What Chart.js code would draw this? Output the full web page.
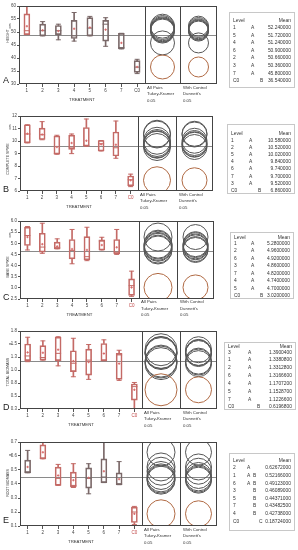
<!DOCTYPE html>
<html>
<head>
<meta charset="utf-8">
<script src="https://cdn.jsdelivr.net/npm/chart.js@4.4.0/dist/chart.umd.min.js"></script>
<style>
  body { margin: 0; background: #fff; width: 298px; height: 550px; overflow: hidden; position: relative;
         font-family: "Liberation Sans", Arial, sans-serif; color: #333; }
  canvas { position: absolute; }
  .txt { position: absolute; font-size: 4.3px; line-height: 6.5px; white-space: nowrap; color: #333; }
  .letter { position: absolute; font-size: 9px; line-height: 9px; color: #222; }
  .ytitle { position: absolute; font-size: 3.6px; line-height: 4px; white-space: nowrap; color: #333;
            transform: translate(-50%, -50%) rotate(-90deg); }
  .tbl { position: absolute; border: 1px solid #c8c8c8; box-sizing: border-box; font-size: 4.9px; color: #333; }
  .tbl span { position: absolute; line-height: 6px; white-space: nowrap; transform: translateY(-50%); }
</style>
</head>
<body>
<script>
const treatments = ['1', '2', '3', '4', '5', '6', '7', 'C0'];

// HEIGHT (cm)
const heightLow    = [49, 48.5, 47, 46.5, 48.5, 44.5, 43.5, 34];
const heightQ1     = [49, 48.5, 49, 47.5, 48.5, 46.5, 43.5, 34.5];
const heightMedian = [50.5, 50.5, 50.5, 48.5, 51.5, 53, 44, 36.5];
const heightQ3     = [57, 53, 52.5, 54.5, 55.5, 54.5, 49.5, 39];
const heightHigh   = [60, 54, 53, 57.5, 56, 55.5, 49.5, 39.5];
const heightMean   = [52.24, 50.66, 50.36, 51.24, 51.72, 50.90, 45.80, 36.54];
const heightLetters = ['A', 'A', 'A', 'A', 'A', 'A', 'A', 'B'];

// COMPLETE SPIKE (cm)
const spikeLow    = [9.85, 10.1, 8.94, 8.99, 9.59, 9.2, 8.62, 6.35];
const spikeQ1     = [9.85, 10.12, 8.95, 9.33, 9.6, 9.2, 8.8, 6.42];
const spikeMedian = [10.56, 10.5, 9.0, 9.51, 9.62, 9.78, 9.46, 6.9];
const spikeQ3     = [11.3, 11.03, 10.4, 10.46, 11.08, 10.04, 10.72, 7.2];
const spikeHigh   = [11.3, 11.55, 10.46, 10.56, 11.76, 10.04, 11.6, 7.35];
const spikeMean   = [10.58, 10.52, 9.52, 9.84, 10.02, 9.74, 9.70, 6.86];
const spikeLetters = ['A', 'A', 'A', 'A', 'A', 'A', 'A', 'B'];

// BASE SPIKE (cm)
const baseLow    = [4.7, 4.55, 4.75, 4.08, 4.22, 4.7, 4.5, 2.62];
const baseQ1     = [4.9, 4.6, 4.75, 4.3, 4.26, 4.7, 4.53, 2.66];
const baseMedian = [5.35, 4.83, 4.8, 4.68, 4.4, 5.1, 4.6, 3.1];
const baseQ3     = [5.72, 5.45, 5.05, 5.17, 5.3, 5.15, 5.17, 3.4];
const baseHigh   = [5.75, 5.9, 5.2, 5.62, 5.72, 5.27, 5.62, 3.75];
const baseMean   = [5.28, 4.96, 4.86, 4.74, 4.70, 4.92, 4.82, 3.02];
const baseLetters = ['A', 'A', 'A', 'A', 'A', 'A', 'A', 'B'];

// TOTAL BIOMASS (g)
const totalLow    = [1.16, 1.19, 1.08, 0.87, 0.82, 1.18, 0.8, 0.25];
const totalQ1     = [1.18, 1.19, 1.18, 0.97, 0.9, 1.18, 0.82, 0.42];
const totalMedian = [1.27, 1.24, 1.32, 1.13, 1.19, 1.18, 1.29, 0.68];
const totalQ3     = [1.5, 1.47, 1.63, 1.37, 1.4, 1.51, 1.32, 0.73];
const totalHigh   = [1.63, 1.56, 1.64, 1.61, 1.49, 1.58, 1.38, 0.76];
const totalMean   = [1.33808, 1.33128, 1.39004, 1.17072, 1.15287, 1.31666, 1.12266, 0.61968];
const totalLetters = ['A', 'A', 'A', 'A', 'A', 'A', 'A', 'B'];

// ROOT BIOMASS (g)
const rootLow    = [0.48, 0.58, 0.39, 0.375, 0.33, 0.41, 0.395, 0.11];
const rootQ1     = [0.48, 0.58, 0.39, 0.38, 0.37, 0.41, 0.395, 0.125];
const rootMedian = [0.486, 0.585, 0.44, 0.39, 0.44, 0.45, 0.40, 0.2];
const rootQ3     = [0.57, 0.68, 0.52, 0.485, 0.515, 0.58, 0.48, 0.235];
const rootHigh   = [0.64, 0.70, 0.54, 0.545, 0.545, 0.70, 0.56, 0.24];
const rootMean   = [0.52166, 0.62672, 0.46089, 0.42738, 0.44371, 0.49123, 0.434825, 0.18724];
const rootLetters = ['AB', 'A', 'B', 'B', 'B', 'AB', 'B', 'C'];

const RED = '#c46a66', DARK = '#7a6868', CIRCLE = '#555555', CONTROL = '#b06a44';

const panels = [
  { tag: 'A', title: 'HEIGHT', unit: 'cm', yMin: 30, yMax: 60, yStep: 5, digits: 6,
    lo: heightLow, q1: heightQ1, med: heightMedian, q3: heightQ3, hi: heightHigh, mean: heightMean, letters: heightLetters,
    box: { left: 19, div1: 145, div2: 180, right: 217, top: 6, bottom: 84 },
    tukeyR: 12, dunnR: 10, red: [0], c0Red: false, titleY: 36, unitY: 26, tagY: 80,
    table: { left: 229, top: 12, w: 66, h: 76, header: 8, row1: 15, step: 7.6, lx: [21, 30] } },
  { tag: 'B', title: 'COMPLETE SPIKE', unit: 'cm', yMin: 6, yMax: 12, yStep: 1, digits: 6,
    lo: spikeLow, q1: spikeQ1, med: spikeMedian, q3: spikeQ3, hi: spikeHigh, mean: spikeMean, letters: spikeLetters,
    box: { left: 20, div1: 138, div2: 176, right: 213, top: 116, bottom: 191 },
    tukeyR: 13.5, dunnR: 12.5, red: [0, 1, 2, 3, 4, 5, 6, 7], c0Red: true, titleY: 159, unitY: 127, tagY: 189,
    table: { left: 227, top: 124, w: 68, h: 70, header: 8.5, row1: 16, step: 7.1, lx: [21, 30] } },
  { tag: 'C', title: 'BASE SPIKE', unit: 'cm', yMin: 2.5, yMax: 6, yStep: 0.5, digits: 7,
    lo: baseLow, q1: baseQ1, med: baseMedian, q3: baseQ3, hi: baseHigh, mean: baseMean, letters: baseLetters,
    box: { left: 20, div1: 139, div2: 177, right: 214, top: 220.5, bottom: 298.5 },
    tukeyR: 14, dunnR: 12.5, red: [0, 1, 2, 3, 4, 5, 6, 7], c0Red: true, titleY: 267, unitY: 235, tagY: 297,
    table: { left: 230, top: 232, w: 64, h: 67, header: 4.5, row1: 11, step: 7.45, lx: [20, 29] } },
  { tag: 'D', title: 'TOTAL BIOMASS', unit: 'g', yMin: 0.25, yMax: 1.75, yStep: 0.25, digits: 7,
    lo: totalLow, q1: totalQ1, med: totalMedian, q3: totalQ3, hi: totalHigh, mean: totalMean, letters: totalLetters,
    box: { left: 20, div1: 142, div2: 180, right: 217, top: 331, bottom: 409 },
    tukeyR: 16, dunnR: 13, red: [0, 1, 2, 3, 4, 5, 6, 7], c0Red: true, titleY: 372, unitY: 344, tagY: 407,
    table: { left: 224, top: 342, w: 72, h: 68, header: 4, row1: 9.5, step: 7.85, lx: [23, 32] } },
  { tag: 'E', title: 'ROOT BIOMASS', unit: 'g', yMin: 0.1, yMax: 0.7, yStep: 0.1, digits: 8,
    lo: rootLow, q1: rootQ1, med: rootMedian, q3: rootQ3, hi: rootHigh, mean: rootMean, letters: rootLetters,
    box: { left: 20, div1: 142, div2: 180, right: 217, top: 442, bottom: 526 },
    tukeyR: 14, dunnR: 13, red: [1, 2, 3, 7], c0Red: true, titleY: 483, unitY: 455, tagY: 520,
    table: { left: 229, top: 453, w: 66, h: 78, header: 6.7, row1: 14.3, step: 7.6, lx: [17, 23, 29] } }
];

// frame, dividers and grand mean line
const framePlugin = {
  id: 'frame',
  beforeDatasetsDraw(chart, args, opts) {
    const { ctx, chartArea: a } = chart;
    const y = Math.round(chart.scales.y.getPixelForValue(opts.grandMean)) + 0.5;
    ctx.save();
    ctx.strokeStyle = '#8a8a8a';
    ctx.lineWidth = 1;
    ctx.beginPath();
    ctx.moveTo(a.left, y);
    ctx.lineTo(a.right, y);
    ctx.stroke();
    ctx.restore();
  },
  afterDatasetsDraw(chart, args, opts) {
    const { ctx, chartArea: a } = chart;
    ctx.save();
    ctx.strokeStyle = '#444';
    ctx.lineWidth = 1;
    ctx.strokeRect(Math.round(a.left) + 0.5, Math.round(a.top) + 0.5,
                   Math.round(a.right - a.left) - 1, Math.round(a.bottom - a.top) - 1);
    opts.dividers.forEach(v => {
      const x = Math.round(chart.scales.x.getPixelForValue(v)) + 0.5;
      ctx.beginPath();
      ctx.moveTo(x, a.top);
      ctx.lineTo(x, a.bottom);
      ctx.stroke();
    });
    ctx.restore();
  }
};

function addText(cls, text, left, top, extra) {
  const d = document.createElement('div');
  d.className = cls;
  d.innerHTML = text;
  d.style.left = left + 'px';
  d.style.top = top + 'px';
  if (extra) Object.assign(d.style, extra);
  document.body.appendChild(d);
  return d;
}

function buildPanel(p) {
  const L = p.box;
  const padTop = 5, xAxisH = 12, yAxisW = 20;
  const cLeft = L.left - yAxisW;
  const w = Math.round(L.right - cLeft + 1);
  const h = Math.round(L.bottom - L.top + padTop + xAxisH);
  const cv = document.createElement('canvas');
  cv.width = w; cv.height = h;
  cv.style.left = cLeft + 'px';
  cv.style.top = (L.top - padTop) + 'px';
  document.body.appendChild(cv);

  const unit = (L.div1 - L.left) / treatments.length;
  const toX = px => 0.5 + (px - L.left) / unit;
  const tukeyX = toX((L.div1 + L.div2) / 2);
  const dunnX = toX((L.div2 + L.right) / 2);
  const pos = treatments.map((t, i) => i + 1);
  const colors = treatments.map((t, i) => p.red.includes(i) ? RED : DARK);
  const grandMean = p.mean.reduce((s, v) => s + v, 0) / p.mean.length;
  const circleColors = treatments.map(t => t === 'C0' ? CONTROL : CIRCLE);

  const pointSet = (values, style, radius, color) => ({
    type: 'scatter',
    data: pos.map((x, i) => ({ x, y: values[i] })),
    pointStyle: style, pointRadius: radius, borderColor: color, borderWidth: 1,
    backgroundColor: 'rgba(0,0,0,0)'
  });

  new Chart(cv, {
    type: 'bar',
    data: {
      datasets: [
        pointSet(p.mean, 'cross', 1.2, '#d86a6a'),
        pointSet(p.med, 'line', 3, colors),
        pointSet(p.lo, 'line', 2.5, colors),
        pointSet(p.hi, 'line', 2.5, colors),
        { type: 'bar', data: pos.map((x, i) => ({ x, y: [p.q1[i], p.q3[i]] })),
          backgroundColor: 'rgba(0,0,0,0)', borderColor: colors, borderWidth: 1, borderSkipped: false,
          barThickness: 6, grouped: false },
        { type: 'bar', data: pos.map((x, i) => ({ x, y: [p.lo[i], p.q1[i]] })),
          backgroundColor: colors, barThickness: 1, grouped: false },
        { type: 'bar', data: pos.map((x, i) => ({ x, y: [p.q3[i], p.hi[i]] })),
          backgroundColor: colors, barThickness: 1, grouped: false },
        { type: 'scatter', data: p.mean.map(m => ({ x: tukeyX, y: m })), pointStyle: 'circle',
          pointRadius: p.tukeyR, borderColor: circleColors, borderWidth: 1,
          backgroundColor: 'rgba(0,0,0,0)', clip: 0 },
        { type: 'scatter', data: p.mean.map(m => ({ x: dunnX, y: m })), pointStyle: 'circle',
          pointRadius: p.dunnR, borderColor: circleColors, borderWidth: 1,
          backgroundColor: 'rgba(0,0,0,0)', clip: 0 }
      ]
    },
    options: {
      responsive: false,
      animation: false,
      events: [],
      layout: { autoPadding: false, padding: { top: padTop, right: 1, left: 0, bottom: 0 } },
      plugins: {
        legend: { display: false },
        tooltip: { enabled: false },
        frame: { grandMean, dividers: [treatments.length + 0.5, toX(L.div2)] }
      },
      scales: {
        x: {
          type: 'linear', min: 0.5, max: toX(L.right), offset: false,
          afterBuildTicks: s => { s.ticks = pos.map(v => ({ value: v })); },
          afterFit: s => { s.height = xAxisH; },
          border: { display: false },
          grid: { display: true, drawOnChartArea: false, offset: false, tickLength: 3, color: '#555' },
          ticks: {
            autoSkip: false, maxRotation: 0, padding: 1,
            font: { size: 4.5, family: 'Liberation Sans' },
            color: c => (p.c0Red && c.tick && c.tick.value === 8) ? '#c04848' : '#444',
            callback: v => treatments[v - 1] || ''
          }
        },
        y: {
          min: p.yMin, max: p.yMax,
          afterFit: s => { s.width = yAxisW; },
          border: { display: false },
          grid: { display: true, drawOnChartArea: false, tickLength: 2, color: '#555' },
          ticks: { stepSize: p.yStep, padding: 1, font: { size: 4.5, family: 'Liberation Sans' }, color: '#444' }
        }
      }
    },
    plugins: [framePlugin]
  });

  // text around the plot
  addText('letter', p.tag, 3, p.tagY - 4.5);
  addText('ytitle', p.title, 8, p.titleY);
  addText('ytitle', p.unit, 10, p.unitY);
  addText('txt', 'TREATMENT', (L.left + L.div1) / 2, L.bottom + 13, { transform: 'translateX(-50%)' });
  addText('txt', 'All Pairs<br>Tukey-Kramer<br>0.05', L.div1 + 2, L.bottom + 0.5);
  addText('txt', 'With Control<br>Dunnett\'s<br>0.05', L.div2 + 3, L.bottom + 0.5);

  // connecting letters report
  const T = p.table;
  const tbl = document.createElement('div');
  tbl.className = 'tbl';
  Object.assign(tbl.style, { left: T.left + 'px', top: T.top + 'px', width: T.w + 'px', height: T.h + 'px' });
  const cell = (text, x, y, right) => {
    const s = document.createElement('span');
    s.textContent = text;
    s.style.top = y + 'px';
    if (right) s.style.right = x + 'px'; else s.style.left = x + 'px';
    tbl.appendChild(s);
  };
  cell('Level', 3, T.header);
  cell('Mean', 3, T.header, true);
  const order = pos.map(v => v - 1).sort((a, b) => p.mean[b] - p.mean[a]);
  order.forEach((k, r) => {
    const y = T.row1 + r * T.step;
    cell(treatments[k], 3, y);
    p.letters[k].split('').forEach(ch => cell(ch, T.lx[ch.charCodeAt(0) - 65], y));
    cell(p.mean[k].toFixed(p.digits), 3, y, true);
  });
  document.body.appendChild(tbl);
}

panels.forEach(buildPanel);
</script>
</body>
</html>
